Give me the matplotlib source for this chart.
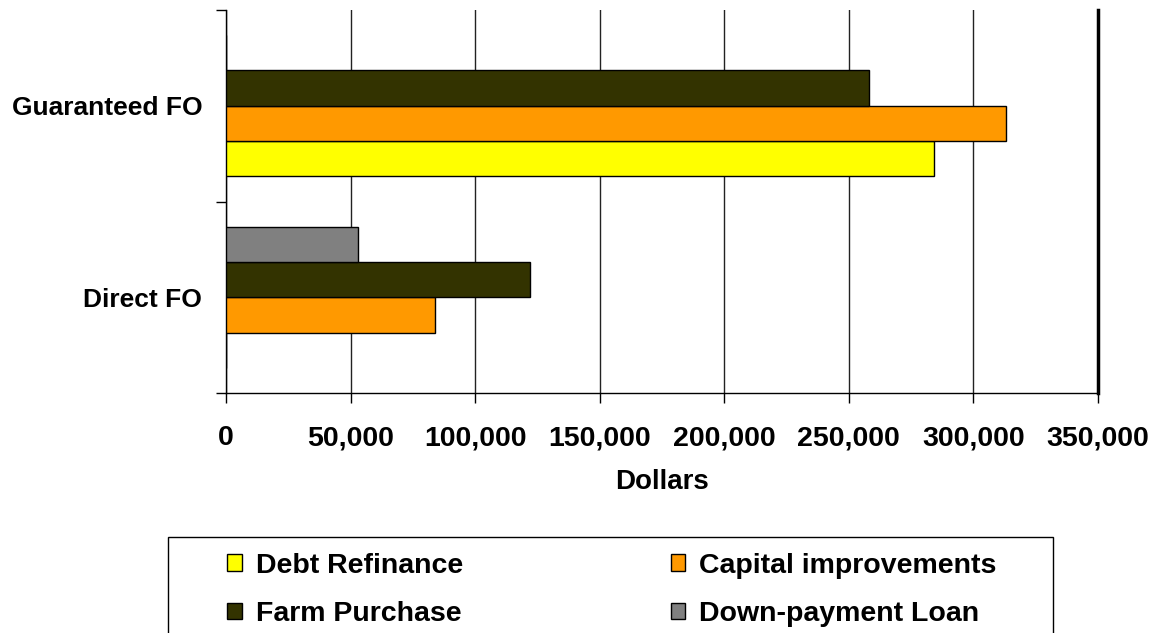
import numpy as np
import matplotlib.pyplot as plt
from matplotlib.patches import Rectangle

categories = ['Direct FO', 'Guaranteed FO']
series = ['Debt Refinance', 'Capital improvements', 'Farm Purchase', 'Down-payment Loan']
debt_refinance = [0, 284000]
capital_improvements = [84000, 313000]
farm_purchase = [122000, 258000]
down_payment = [53000, 0]
colors = ['#FFFF00', '#FF9900', '#333300', '#808080']
xticks = [0, 50000, 100000, 150000, 200000, 250000, 300000, 350000]

plt.rcParams['font.family'] = ['Liberation Sans', 'DejaVu Sans']
plt.rcParams['font.weight'] = 'bold'

fig = plt.figure(figsize=(11.57, 6.33), dpi=100)
ax = fig.add_axes([0.1953, 0.379, 0.7537, 0.6053])

values = [debt_refinance, capital_improvements, farm_purchase, down_payment]
y = np.arange(len(categories))
h = 0.184
offsets = [-1.5 * h, -0.5 * h, 0.5 * h, 1.5 * h]
handles = []
for vals, off, c, name in zip(values, offsets, colors, series):
    b = ax.barh(y + off, vals, height=h, color=c, edgecolor='black',
                linewidth=1, label=name, zorder=3)
    handles.append(b)

ax.set_xlim(0, 350000)
ax.set_ylim(-0.5, 1.5)
ax.set_xticks(xticks)
ax.set_xticklabels([f'{v:,}' for v in xticks], fontsize=20.5, fontweight='bold')
ax.tick_params(axis='x', length=7, width=1, pad=16, direction='out')
ax.xaxis.grid(True, color='#222222', linewidth=1, zorder=0)

ax.set_yticks([-0.5, 0.5, 1.5])
ax.set_yticklabels([])
ax.set_yticks(y, minor=True)
ax.set_yticklabels(categories, minor=True, fontsize=19, fontweight='bold')
ax.tick_params(axis='y', which='major', length=7, width=1)
ax.tick_params(axis='y', which='minor', length=0, pad=17)

ax.spines['top'].set_visible(False)
ax.spines['right'].set_linewidth(2.5)
ax.spines['left'].set_linewidth(1)
ax.spines['bottom'].set_linewidth(1)

ax.set_xlabel('Dollars', fontsize=20, fontweight='bold', labelpad=13)

# legend box drawn by hand, partly cut off at the bottom of the figure
fig.patches.append(Rectangle((0.1452, -0.02), 0.7649, 0.1717, transform=fig.transFigure,
                             facecolor='white', edgecolor='black', linewidth=1))

order = [0, 2, 1, 3]
leg = fig.legend([handles[i] for i in order], [series[i] for i in order],
                 ncol=2, loc='upper left', bbox_to_anchor=(0.1965, 0.127),
                 prop={'size': 20.5, 'weight': 'bold'}, frameon=False,
                 handlelength=0.5, handleheight=0.5, handletextpad=0.5,
                 labelspacing=0.78, borderpad=0, borderaxespad=0,
                 columnspacing=7.3)

fig.savefig('out.png', dpi=100)
